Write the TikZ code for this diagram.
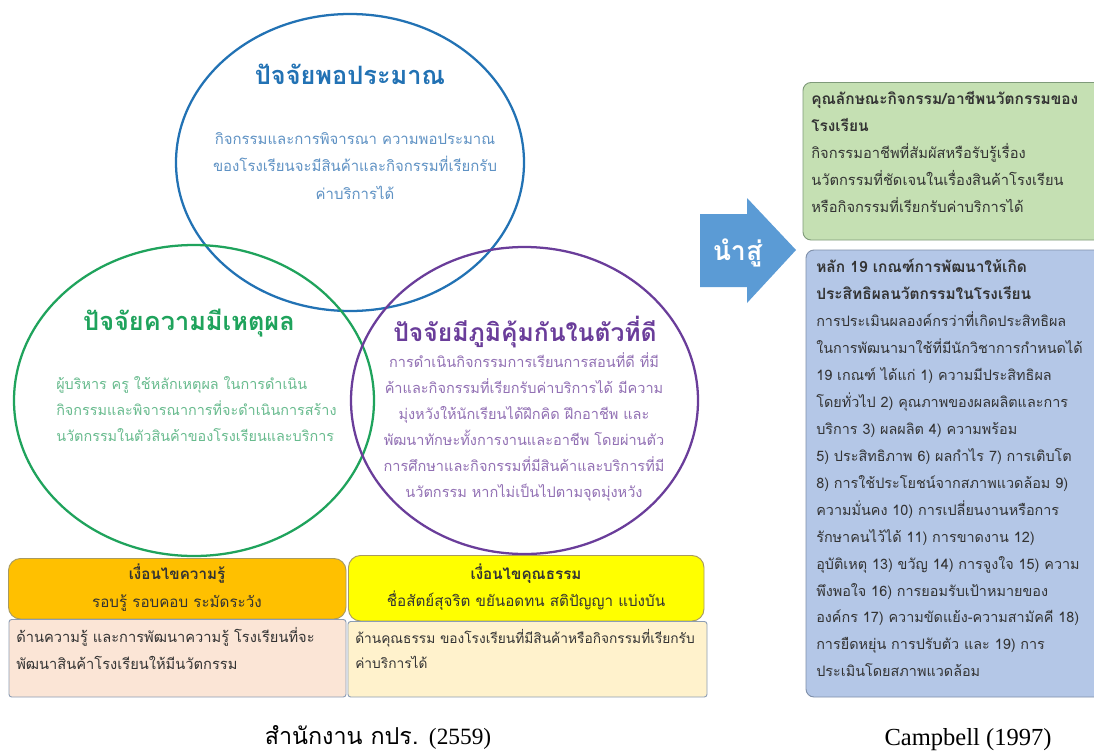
\documentclass[tikz,border=0pt]{standalone}
\usepackage{fontspec}
\setmainfont[Script=Thai]{Loma}
\newfontfamily\citefont{Liberation Serif}
\definecolor{cblue}{HTML}{2272B4}
\definecolor{cgreen}{HTML}{1FA35C}
\definecolor{cpurple}{HTML}{6A3D9A}
\definecolor{tblue}{HTML}{5F92C4}
\definecolor{tgreen}{HTML}{68BB8E}
\definecolor{tpurple}{HTML}{9270B4}
\definecolor{ink}{HTML}{333333}
\definecolor{amber}{HTML}{FFC000}
\definecolor{amberedge}{HTML}{A89A60}
\definecolor{yelfill}{HTML}{FFFF00}
\definecolor{peach}{HTML}{FBE5D6}
\definecolor{cream}{HTML}{FFF2CC}
\definecolor{boxedge}{HTML}{8C9DB5}
\definecolor{arrowblue}{HTML}{5B9BD5}
\definecolor{lgreen}{HTML}{C5E0B3}
\definecolor{lgreenedge}{HTML}{7F9A7A}
\definecolor{lblue}{HTML}{B4C7E7}
\definecolor{lblueedge}{HTML}{7F8FA9}
\newcommand{\hd}[1]{{\fontsize{11.6}{20.2}\selectfont\bfseries #1}}
\tikzset{
 x=0.75pt,y=-0.75pt,
 vcircle/.style={draw,line width=1.7pt,fill=none},
 ttl/.style={font=\fontsize{19}{22}\selectfont\bfseries,inner sep=0},
 body/.style={font=\fontsize{11.2}{20.4}\selectfont,align=center,inner sep=0},
 capbox/.style={draw=amberedge,line width=0.7pt,rounded corners=9pt},
 capt/.style={font=\fontsize{11.4}{21}\selectfont,align=center,inner sep=0,text=ink},
 subbox/.style={draw=boxedge,line width=0.7pt,rounded corners=2pt},
 sidebox/.style={line width=0.7pt,rounded corners=6pt},
 para/.style={font=\fontsize{11}{20.2}\selectfont,align=left,anchor=north west,inner sep=0,text=ink},
 cite/.style={inner sep=0,font=\citefont\fontsize{18.4}{22}\selectfont,text=black},
}
\begin{document}
\begin{tikzpicture}
\useasboundingbox (0,0) rectangle (1094,753);
\fill[white] (0,0) rectangle (1094,753);
% circles
\draw[vcircle,draw=cblue] (350,162.5) ellipse [x radius=174,y radius=148.5];
\draw[vcircle,draw=cgreen] (194,400.5) ellipse [x radius=180,y radius=155.5];
\draw[vcircle,draw=cpurple] (524.5,400.5) ellipse [x radius=173.5,y radius=153.5];
% circle text
\node[ttl,text=cblue] (t1) at (350,74) {ปัจจัยพอประมาณ};
\node[body,text=tblue] (b1) at (355,166) {กิจกรรมและการพิจารณา ความพอประมาณ\\ของโรงเรียนจะมีสินค้าและกิจกรรมที่เรียกรับ\\ค่าบริการได้};
\node[ttl,text=cgreen] (t2) at (189,323) {ปัจจัยความมีเหตุผล};
\node[body,text=tgreen,align=left,anchor=west,font=\fontsize{10.8}{19.6}\selectfont] (b2) at (56,409) {ผู้บริหาร ครู ใช้หลักเหตุผล ในการดำเนิน\\กิจกรรมและพิจารณาการที่จะดำเนินการสร้าง\\นวัตกรรมในตัวสินค้าของโรงเรียนและบริการ};
\node[ttl,text=cpurple,font=\fontsize{18.5}{22}\selectfont\bfseries] (t3) at (525,332) {ปัจจัยมีภูมิคุ้มกันในตัวที่ดี};
\node[body,text=tpurple,font=\fontsize{10.9}{19.5}\selectfont] (b3) at (524,427) {การดำเนินกิจกรรมการเรียนการสอนที่ดี ที่มี\\ค้าและกิจกรรมที่เรียกรับค่าบริการได้ มีความ\\มุ่งหวังให้นักเรียนได้ฝึกคิด ฝึกอาชีพ และ\\พัฒนาทักษะทั้งการงานและอาชีพ โดยผ่านตัว\\การศึกษาและกิจกรรมที่มีสินค้าและบริการที่มี\\นวัตกรรม หากไม่เป็นไปตามจุดมุ่งหวัง};
% condition boxes
\draw[capbox,fill=amber] (8.5,558.5) rectangle (346,619);
\node[capt] (k1) at (177,588) {\textbf{เงื่อนไขความรู้}\\รอบรู้ รอบคอบ ระมัดระวัง};
\draw[capbox,fill=yelfill] (348.5,555.5) rectangle (704,621);
\node[capt,font=\fontsize{11.4}{20.2}\selectfont] (k2) at (526,587) {\textbf{เงื่อนไขคุณธรรม}\\ชื่อสัตย์สุจริต ขยันอดทน สติปัญญา แบ่งบัน};
\draw[subbox,fill=peach] (9,619.5) rectangle (346,697);
\node[para] (k3) at (16,627) {ด้านความรู้ และการพัฒนาความรู้ โรงเรียนที่จะ\\พัฒนาสินค้าโรงเรียนให้มีนวัตกรรม};
\draw[subbox,fill=cream] (348,621.5) rectangle (707,697);
\node[para,font=\fontsize{10.3}{19}\selectfont] (k4) at (355,629) {ด้านคุณธรรม ของโรงเรียนที่มีสินค้าหรือกิจกรรมที่เรียกรับ\\ค่าบริการได้};
% arrow
\fill[arrowblue] (700,214) -- (747,214) -- (747,198) -- (796,250) -- (747,303) -- (747,287) -- (700,287) -- cycle;
\node[font=\fontsize{20}{24}\selectfont\bfseries,text=white,inner sep=0] (nam) at (737.5,253) {นำสู่};
% right boxes
\draw[sidebox,draw=lgreenedge,fill=lgreen] (803,82.5) rectangle (1110,240);
\node[para] (g) at (811,91) {\hd{คุณลักษณะกิจกรรม/อาชีพนวัตกรรมของ}\\\hd{โรงเรียน}\\กิจกรรมอาชีพที่สัมผัสหรือรับรู้เรื่อง\\นวัตกรรมที่ชัดเจนในเรื่องสินค้าโรงเรียน\\หรือกิจกรรมที่เรียกรับค่าบริการได้};
\draw[sidebox,draw=lblueedge,fill=lblue] (806,250) rectangle (1110,697);
\node[para,font=\fontsize{10.8}{20.2}\selectfont] (h) at (816,259) {\hd{หลัก 19 เกณฑ์การพัฒนาให้เกิด}\\\hd{ประสิทธิผลนวัตกรรมในโรงเรียน}\\การประเมินผลองค์กรว่าที่เกิดประสิทธิผล\\ในการพัฒนามาใช้ที่มีนักวิชาการกำหนดได้\\19 เกณฑ์ ได้แก่ 1) ความมีประสิทธิผล\\โดยทั่วไป 2) คุณภาพของผลผลิตและการ\\บริการ 3) ผลผลิต 4) ความพร้อม\\5) ประสิทธิภาพ 6) ผลกำไร 7) การเติบโต\\8) การใช้ประโยชน์จากสภาพแวดล้อม 9)\\ความมั่นคง 10) การเปลี่ยนงานหรือการ\\รักษาคนไว้ได้ 11) การขาดงาน 12)\\อุบัติเหตุ 13) ขวัญ 14) การจูงใจ 15) ความ\\พึงพอใจ 16) การยอมรับเป้าหมายของ\\องค์กร 17) ความขัดแย้ง-ความสามัคคี 18)\\การยืดหยุ่น การปรับตัว และ 19) การ\\ประเมินโดยสภาพแวดล้อม};
% citations
\node[inner sep=0,text=black,font=\fontsize{17.5}{21}\selectfont] (c1) at (378,737) {สำนักงาน กปร. {\citefont (2559)}};
\node[cite] (c2) at (968,740) {Campbell (1997)};
\end{tikzpicture}
\end{document}
